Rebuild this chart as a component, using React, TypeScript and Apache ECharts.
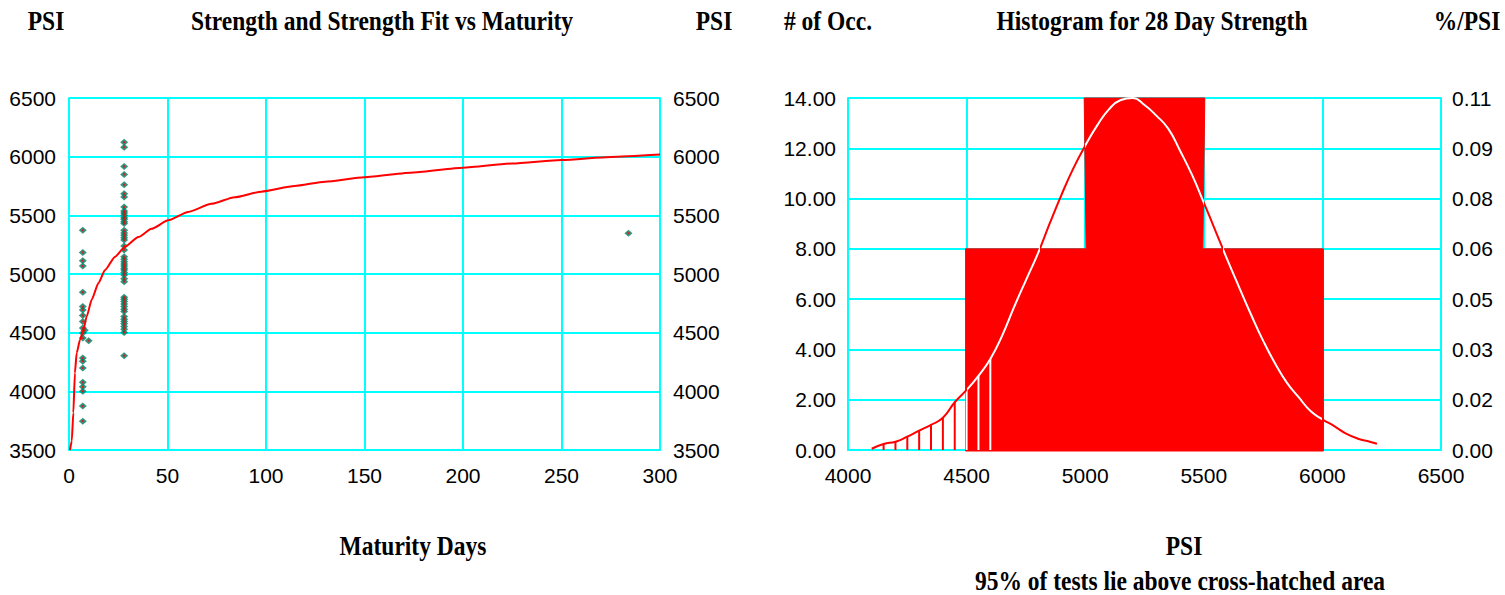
import React, { useEffect, useRef } from "react";
import * as echarts from "echarts";

// ---------- Left chart: strength tests vs maturity ----------
const maturityTicks = [0, 50, 100, 150, 200, 250, 300];
const strengthTests: [number, number][] = [
  [7, 5373], [7, 5184], [7, 5113], [7, 5068], [7, 4845], [7, 4722], [7, 4694], [7, 4646],
  [7, 4595], [7, 4539], [7, 4497], [7, 4454], [7, 4284], [7, 4256], [7, 4199], [7, 4077],
  [7, 4038], [7, 4001], [7, 3874], [7, 3746], [8, 4520], [10, 4432],
  [28, 6123], [28, 6081], [28, 5917], [28, 5849], [28, 5761], [28, 5685], [28, 5656], [28, 5571],
  [28, 5537], [28, 5520], [28, 5501], [28, 5480], [28, 5467], [28, 5445], [28, 5430], [28, 5373],
  [28, 5350], [28, 5331], [28, 5310], [28, 5289], [28, 5238], [28, 5204], [28, 5147], [28, 5125],
  [28, 5104], [28, 5085], [28, 5068], [28, 5050], [28, 5034], [28, 5012], [28, 4992], [28, 4960],
  [28, 4935], [28, 4802], [28, 4785], [28, 4765], [28, 4745], [28, 4722], [28, 4700], [28, 4680],
  [28, 4637], [28, 4615], [28, 4595], [28, 4575], [28, 4553], [28, 4530], [28, 4502], [28, 4304],
  [284, 5348],
];
const fitDays = [0.5, 1.4, 2.2, 3.0, 3.9, 5.6, 7.3, 9.0, 11.5, 14.9, 18.3, 23.4, 28.5, 35.2, 41.9, 50.4, 60.5, 72.3, 84.1, 97.6, 114.5, 130, 150, 175, 200, 225, 250, 275, 300];
const fitPsi = [3500, 3576, 3817, 4157, 4327, 4440, 4525, 4638, 4780, 4921, 5034, 5148, 5233, 5315, 5385, 5458, 5529, 5598, 5654, 5702, 5750, 5787, 5825, 5866, 5906, 5942, 5972, 5998, 6018];

// ---------- Right chart: histogram for 28 day strength ----------
const histBins: [number, number, number][] = [
  [4500, 5000, 8],
  [5000, 5500, 14],
  [5500, 6000, 8],
];
const normalPsi = [4100, 4150, 4200, 4250, 4300, 4350, 4400, 4450, 4500, 4550, 4600, 4650, 4700, 4750, 4800, 4850, 4900, 4950, 5000, 5050, 5100, 5150, 5200, 5250, 5300, 5350, 5400, 5450, 5500, 5550, 5600, 5650, 5700, 5750, 5800, 5850, 5900, 5950, 6000, 6050, 6100, 6150, 6200, 6230];
const normalOcc = [0.05, 0.24, 0.33, 0.53, 0.77, 1.0, 1.28, 1.9, 2.39, 2.95, 3.62, 4.55, 5.68, 6.75, 7.8, 9.0, 10.15, 11.2, 12.1, 12.9, 13.55, 13.92, 14.0, 13.72, 13.3, 12.78, 11.9, 10.95, 9.84, 8.7, 7.55, 6.45, 5.37, 4.35, 3.45, 2.68, 2.1, 1.55, 1.22, 0.95, 0.65, 0.45, 0.33, 0.25];
const hatchFrom = 4150;
const hatchTo = 4600;
const occLabels = ["0.00", "2.00", "4.00", "6.00", "8.00", "10.00", "12.00", "14.00"];
const pctLabels = ["0.00", "0.02", "0.03", "0.05", "0.06", "0.08", "0.09", "0.11"];

const CYAN = "#00ffff";
const RED = "#ff0000";
const TEAL = "#007a60";
const SANS = '"Liberation Sans", Arial, sans-serif';
const SERIF = '"Liberation Serif", "Times New Roman", serif';

function crossing(i0: number, i1: number, h: number) {
  const t = (h - normalOcc[i0]) / (normalOcc[i1] - normalOcc[i0]);
  return normalPsi[i0] + t * (normalPsi[i1] - normalPsi[i0]);
}

function insideRanges(): [number, number][] {
  // x ranges where the curve lies inside a bar (curve at or below bar height)
  const res: [number, number][] = [];
  for (const [x0, x1, h] of histBins) {
    let start: number | null = null;
    let prevIdx = -1;
    for (let i = 0; i < normalPsi.length; i++) {
      const x = normalPsi[i];
      if (x < x0 || x > x1) continue;
      const inside = normalOcc[i] <= h;
      if (prevIdx < 0) {
        if (inside) start = x0;
      } else {
        const prevIn = normalOcc[prevIdx] <= h;
        if (prevIn && !inside && start !== null) {
          res.push([start, crossing(prevIdx, i, h)]);
          start = null;
        } else if (!prevIn && inside) {
          start = crossing(prevIdx, i, h);
        }
      }
      prevIdx = i;
    }
    if (start !== null) res.push([start, x1]);
  }
  return res;
}

function buildPieces() {
  const ranges = insideRanges();
  const pieces: any[] = [];
  let cur = -Infinity;
  for (const [a, b] of ranges) {
    if (a > cur) pieces.push(cur === -Infinity ? { lt: a, color: RED } : { gte: cur, lt: a, color: RED });
    pieces.push({ gte: a, lt: b, color: "#ffffff" });
    cur = b;
  }
  pieces.push({ gte: cur, color: RED });
  return pieces;
}

export default function App() {
  const ref = useRef<HTMLDivElement>(null);
  useEffect(() => {
    if (!ref.current) return;
    const chart = echarts.init(ref.current, undefined, { renderer: "svg" });
    const axisLabel = { color: "#000", fontFamily: SANS, fontSize: 21, formatter: (v: number) => String(v) };
    const axisLine = { show: true, lineStyle: { color: CYAN, width: 2 } };
    const splitLine = { show: true, lineStyle: { color: CYAN, width: 2 } };
    const hatchData = normalPsi
      .map((x, i) => [x, normalOcc[i]])
      .filter(([x]) => x >= hatchFrom && x <= hatchTo);
    const titleText = (text: string, x: number, y: number) => ({
      type: "text",
      x,
      y,
      scaleY: 1.15,
      style: {
        text,
        fill: "#000",
        fontFamily: SERIF,
        fontWeight: "bold",
        fontSize: 23.5,
        align: "center",
        verticalAlign: "middle",
      },
    });
    chart.setOption({
      animation: false,
      backgroundColor: "#fff",
      grid: [
        { left: 69, top: 98, width: 591, height: 352 },
        { left: 848, top: 98, width: 593, height: 352 },
      ],
      xAxis: [
        {
          gridIndex: 0, type: "value", min: maturityTicks[0], max: maturityTicks[maturityTicks.length - 1], interval: 50,
          axisLine, axisTick: { show: false }, splitLine,
          axisLabel: { ...axisLabel, margin: 15 },
        },
        {
          gridIndex: 1, type: "value", min: 4000, max: 6500, interval: 500,
          axisLine, axisTick: { show: false }, splitLine,
          axisLabel: { ...axisLabel, margin: 15 },
        },
      ],
      yAxis: [
        {
          gridIndex: 0, type: "value", min: 3500, max: 6500, interval: 500, position: "left",
          axisLine, axisTick: { show: false }, splitLine,
          axisLabel: { ...axisLabel, margin: 13 },
        },
        {
          gridIndex: 0, type: "value", min: 3500, max: 6500, interval: 500, position: "right",
          axisLine, axisTick: { show: false }, splitLine: { show: false },
          axisLabel: { ...axisLabel, margin: 13 },
        },
        {
          gridIndex: 1, type: "value", min: 0, max: 14, interval: 2, position: "left",
          axisLine, axisTick: { show: false }, splitLine,
          axisLabel: { ...axisLabel, margin: 12, formatter: (v: number) => occLabels[Math.round(v / 2)] },
        },
        {
          gridIndex: 1, type: "value", min: 0, max: 14, interval: 2, position: "right",
          axisLine, axisTick: { show: false }, splitLine: { show: false },
          axisLabel: { ...axisLabel, margin: 11, formatter: (v: number) => pctLabels[Math.round(v / 2)] },
        },
      ],
      visualMap: [
        { type: "piecewise", show: false, dimension: 0, seriesIndex: 5, pieces: buildPieces() },
      ],
      series: [
        {
          type: "scatter", xAxisIndex: 0, yAxisIndex: 0, data: strengthTests,
          symbol: "diamond", symbolSize: [8, 7], itemStyle: { color: TEAL }, z: 2,
        },
        {
          type: "scatter", xAxisIndex: 0, yAxisIndex: 0, data: strengthTests,
          symbol: "rect", symbolSize: [2, 2], itemStyle: { color: RED }, z: 3,
        },
        {
          type: "line", xAxisIndex: 0, yAxisIndex: 0,
          data: fitDays.map((d, i) => [d, fitPsi[i]]),
          showSymbol: false, smooth: 0.2, smoothMonotone: "x",
          lineStyle: { color: RED, width: 2 }, z: 4,
        },
        {
          // histogram bars drawn as one stepped polygon (no seams between bins)
          type: "custom", xAxisIndex: 1, yAxisIndex: 2, data: histBins,
          encode: { x: [0, 1], y: 2 },
          renderItem: (params: any, api: any) => {
            if (params.dataIndex !== 0) return null;
            const pts: number[][] = [];
            const first = api.coord([histBins[0][0], 0]);
            pts.push([first[0] - 1, first[1] + 1]);
            histBins.forEach(([x0, x1, h], i) => {
              const a = api.coord([x0, h]);
              const b = api.coord([x1, h]);
              pts.push([a[0] + (i === 0 ? -1 : -1), a[1]]);
              pts.push([b[0] + 1, b[1]]);
            });
            const last = api.coord([histBins[histBins.length - 1][1], 0]);
            pts.push([last[0] + 1, last[1] + 1]);
            return { type: "polygon", shape: { points: pts }, style: { fill: RED, stroke: RED, lineWidth: 1 } };
          },
          zlevel: 1, z: 5,
        },
        {
          type: "custom", xAxisIndex: 1, yAxisIndex: 2, data: hatchData,
          encode: { x: 0, y: 1 },
          renderItem: (_p: any, api: any) => {
            const x = api.value(0);
            const top = api.coord([x, api.value(1)]);
            const bot = api.coord([x, 0]);
            return {
              type: "line",
              shape: { x1: top[0], y1: top[1], x2: bot[0], y2: bot[1] },
              style: { stroke: x >= histBins[0][0] ? "#ffffff" : RED, lineWidth: 2 },
            };
          },
          zlevel: 1, z: 6,
        },
        {
          type: "line", xAxisIndex: 1, yAxisIndex: 2,
          data: normalPsi.map((x, i) => [x, normalOcc[i]]),
          showSymbol: false, smooth: true, lineStyle: { width: 2 }, zlevel: 1, z: 7,
        },
      ],
      graphic: [
        titleText("PSI", 46, 20),
        titleText("Strength and Strength Fit vs Maturity", 382, 20),
        titleText("PSI", 714, 20),
        titleText("# of Occ.", 828, 20),
        titleText("Histogram for 28 Day Strength", 1152, 20),
        titleText("%/PSI", 1467, 20),
        titleText("Maturity Days", 413, 545),
        titleText("PSI", 1184, 545),
        titleText("95% of tests lie above cross-hatched area", 1180, 580),
      ],
    });
    return () => chart.dispose();
  }, []);
  return (
    <div style={{ position: "fixed", left: 0, top: 0, width: 1505, height: 595, background: "#fff" }}>
      <div ref={ref} style={{ width: 1505, height: 595 }} />
    </div>
  );
}
